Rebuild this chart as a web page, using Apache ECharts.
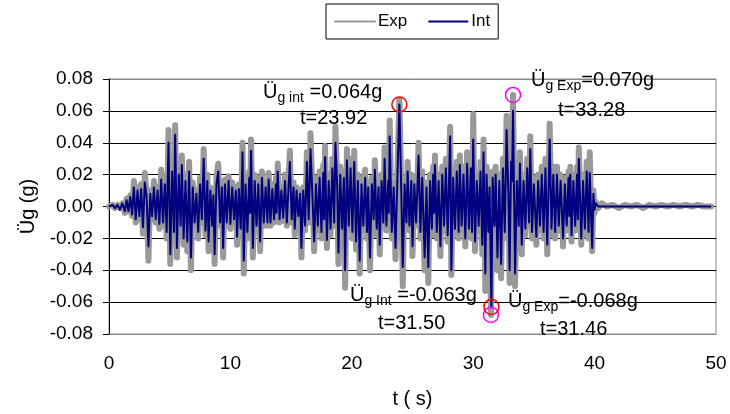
<!DOCTYPE html>
<html>
<head>
<meta charset="utf-8">
<script src="https://cdn.jsdelivr.net/npm/echarts@6/dist/echarts.min.js"></script>
<style>
html,body{margin:0;padding:0;background:#fff;}
#chart{width:730px;height:414px;}
</style>
</head>
<body>
<div id="chart"></div>
<script>
// Tick labels / axis ranges
const xTicks = [0, 10, 20, 30, 40, 50];
const yTicks = [-0.08, -0.06, -0.04, -0.02, 0.00, 0.02, 0.04, 0.06, 0.08];
const seriesNames = ['Exp', 'Int'];

const expRecord = [
[0.0,0.000],[0.3,0.001],[0.5,-0.001],[0.7,0.001],[0.9,-0.001],[1.1,0.002],[1.3,-0.004],[1.45,0.005],[1.6,-0.003],[1.75,0.007],
[1.9,-0.006],[2.05,0.016],[2.2,-0.010],[2.35,0.012],[2.5,-0.008],[2.65,0.014],[2.8,-0.017],[2.95,0.021],[3.1,0.008],[3.25,-0.034],
[3.4,0.010],[3.55,-0.008],[3.7,0.016],[3.85,-0.010],[4.0,0.012],[4.15,-0.014],[4.3,0.023],[4.45,-0.012],[4.6,0.018],[4.75,-0.020],
[4.9,0.048],[5.05,-0.036],[5.2,0.030],[5.35,-0.020],[5.45,0.051],[5.6,-0.032],[5.75,0.025],[5.9,-0.015],[6.0,0.032],[6.15,-0.024],
[6.3,0.020],[6.45,-0.028],[6.6,0.028],[6.75,-0.040],[6.9,0.015],[7.05,-0.012],[7.2,0.010],[7.35,-0.020],[7.5,0.018],[7.65,-0.010],
[7.8,0.036],[7.95,-0.018],[8.1,0.020],[8.2,-0.028],[8.35,0.012],[8.5,-0.015],[8.6,0.008],[8.7,-0.036],[8.85,0.018],[9.0,0.027],
[9.15,-0.012],[9.3,0.015],[9.4,-0.032],[9.55,0.017],[9.7,-0.012],[9.85,0.019],[10.0,-0.014],[10.15,0.015],[10.3,-0.010],[10.45,0.012],
[10.55,-0.024],[10.7,0.014],[10.85,-0.018],[11.0,0.040],[11.1,-0.042],[11.25,0.018],[11.4,-0.020],[11.55,0.022],[11.62,-0.005],[11.7,0.042],
[11.85,-0.032],[12.0,0.020],[12.15,-0.015],[12.3,0.018],[12.45,-0.028],[12.6,0.022],[12.75,-0.012],[12.9,0.015],[13.05,-0.012],[13.15,0.021],
[13.3,-0.012],[13.45,0.014],[13.6,-0.010],[13.75,0.018],[13.8,-0.005],[13.9,0.027],[14.05,-0.010],[14.2,0.012],[14.35,-0.009],[14.5,0.020],
[14.65,-0.012],[14.8,0.018],[14.9,0.035],[15.05,-0.010],[15.2,0.015],[15.3,-0.018],[15.45,0.012],[15.6,-0.008],[15.75,0.010],[15.85,-0.032],
[16.0,0.012],[16.15,-0.015],[16.3,0.034],[16.45,-0.010],[16.6,0.046],[16.75,0.010],[16.9,-0.028],[17.05,0.018],[17.2,-0.015],[17.35,0.022],
[17.5,-0.020],[17.65,0.026],[17.72,-0.010],[17.8,0.038],[17.95,-0.026],[18.1,0.020],[18.25,-0.018],[18.4,0.030],[18.55,-0.012],[18.65,0.050],
[18.8,0.015],[18.9,-0.036],[19.05,0.025],[19.2,-0.018],[19.35,0.022],[19.45,-0.051],[19.6,0.036],[19.75,-0.015],[19.9,0.030],[20.05,-0.020],
[20.2,0.035],[20.35,-0.027],[20.5,0.020],[20.65,-0.042],[20.8,0.018],[20.95,-0.015],[21.1,0.023],[21.25,-0.020],[21.35,0.015],[21.5,-0.040],
[21.65,0.018],[21.8,-0.010],[21.9,0.029],[22.05,-0.018],[22.2,0.015],[22.3,-0.030],[22.45,0.020],[22.6,-0.012],[22.7,0.037],[22.85,-0.015],
[23.0,0.020],[23.05,-0.005],[23.12,0.054],[23.3,-0.020],[23.45,0.015],[23.6,-0.033],[23.75,0.020],[23.92,0.067],[24.08,0.010],[24.2,-0.050],
[24.35,0.018],[24.5,-0.012],[24.6,0.028],[24.75,-0.015],[24.9,0.020],[25.0,-0.031],[25.15,0.018],[25.3,-0.012],[25.5,0.040],[25.65,-0.020],
[25.8,0.022],[26.0,-0.040],[26.15,0.015],[26.3,-0.048],[26.45,0.020],[26.6,-0.018],[26.7,0.025],[26.78,-0.005],[26.85,0.032],[27.0,-0.020],
[27.15,0.020],[27.3,-0.031],[27.45,0.025],[27.6,-0.015],[27.75,0.030],[27.9,-0.022],[28.1,0.050],[28.2,-0.043],[28.35,0.022],[28.5,-0.018],
[28.65,0.028],[28.8,-0.020],[28.9,0.032],[29.05,-0.015],[29.2,0.025],[29.35,-0.025],[29.5,0.034],[29.65,-0.018],[29.8,0.030],[29.9,-0.020],
[30.0,0.058],[30.15,-0.028],[30.3,0.020],[30.45,-0.015],[30.6,0.028],[30.75,-0.030],[30.85,0.042],[31.0,-0.053],[31.1,0.025],[31.25,-0.020],
[31.35,0.015],[31.46,-0.068],[31.6,0.022],[31.75,-0.015],[31.85,0.025],[32.0,-0.040],[32.15,0.020],[32.3,-0.045],[32.45,0.030],[32.6,-0.020],
[32.75,0.057],[32.9,0.010],[33.0,-0.048],[33.12,0.035],[33.2,0.020],[33.28,0.070],[33.45,-0.050],[33.6,0.020],[33.75,-0.015],[33.85,0.034],
[34.0,-0.030],[34.15,0.020],[34.3,-0.018],[34.45,0.030],[34.6,-0.012],[34.7,0.044],[34.85,-0.020],[35.0,0.018],[35.2,-0.024],[35.35,0.020],
[35.5,-0.015],[35.65,0.025],[35.8,-0.020],[35.95,0.030],[36.1,-0.030],[36.3,0.052],[36.45,-0.018],[36.6,0.025],[36.75,-0.020],[36.9,0.025],
[37.05,-0.015],[37.2,0.020],[37.4,-0.025],[37.55,0.018],[37.7,-0.015],[37.85,0.022],[37.92,-0.008],[38.0,0.025],[38.1,-0.022],[38.25,0.020],
[38.4,-0.015],[38.55,0.025],[38.62,-0.010],[38.7,0.037],[38.9,-0.024],[39.05,0.020],[39.2,-0.018],[39.35,0.028],[39.5,-0.020],[39.6,0.034],
[39.8,-0.028],[39.9,0.010],[40.0,-0.004],[40.1,0.003],[40.3,-0.001],[40.6,0.002],[41.0,0.000],[41.5,0.001],[42.0,-0.001],[42.5,0.001],
[43.0,0.000],[43.5,0.001],[44.0,-0.001],[44.5,0.001],[45.0,0.000],[45.5,0.001],[46.0,0.000],[46.5,0.001],[47.0,0.000],[47.5,0.001],
[48.0,0.000],[48.5,0.001],[49.0,0.000],[49.6,0.000]
];

// Integrated (Int) ground acceleration record [t (s), Üg (g)]
const intRecord = [
[0.0,0.000],[0.3,0.001],[0.5,-0.001],[0.7,0.001],[0.9,-0.002],[1.1,0.002],[1.3,-0.003],[1.45,0.004],[1.6,-0.003],[1.75,0.006],
[1.9,-0.005],[2.05,0.012],[2.2,-0.008],[2.35,0.010],[2.5,-0.006],[2.65,0.011],[2.8,-0.013],[2.95,0.015],[3.1,0.006],[3.25,-0.025],
[3.4,0.008],[3.55,-0.006],[3.7,0.012],[3.85,-0.008],[4.0,0.010],[4.15,-0.011],[4.3,0.017],[4.45,-0.010],[4.6,0.014],[4.75,-0.016],
[4.9,0.040],[5.05,-0.030],[5.2,0.022],[5.35,-0.016],[5.45,0.045],[5.6,-0.026],[5.75,0.020],[5.9,-0.012],[6.0,0.026],[6.15,-0.020],
[6.3,0.016],[6.45,-0.022],[6.6,0.022],[6.75,-0.032],[6.9,0.012],[7.05,-0.010],[7.2,0.008],[7.35,-0.016],[7.5,0.014],[7.65,-0.008],
[7.8,0.030],[7.95,-0.015],[8.1,0.016],[8.2,-0.022],[8.35,0.010],[8.5,-0.012],[8.6,0.007],[8.7,-0.030],[8.85,0.014],[9.0,0.022],
[9.15,-0.010],[9.3,0.012],[9.4,-0.026],[9.55,0.014],[9.7,-0.010],[9.85,0.016],[10.0,-0.011],[10.15,0.012],[10.3,-0.008],[10.45,0.010],
[10.55,-0.019],[10.7,0.011],[10.85,-0.014],[11.0,0.034],[11.1,-0.034],[11.25,0.014],[11.4,-0.016],[11.55,0.018],[11.62,-0.004],[11.7,0.035],
[11.85,-0.026],[12.0,0.016],[12.15,-0.012],[12.3,0.014],[12.45,-0.022],[12.6,0.018],[12.75,-0.010],[12.9,0.012],[13.05,-0.010],[13.15,0.017],
[13.3,-0.010],[13.45,0.011],[13.6,-0.008],[13.75,0.014],[13.8,-0.004],[13.9,0.022],[14.05,-0.008],[14.2,0.010],[14.35,-0.007],[14.5,0.016],
[14.65,-0.010],[14.8,0.014],[14.9,0.028],[15.05,-0.008],[15.2,0.012],[15.3,-0.014],[15.45,0.010],[15.6,-0.006],[15.75,0.008],[15.85,-0.026],
[16.0,0.010],[16.15,-0.012],[16.3,0.028],[16.45,-0.008],[16.6,0.036],[16.75,0.008],[16.9,-0.022],[17.05,0.014],[17.2,-0.012],[17.35,0.018],
[17.5,-0.016],[17.65,0.021],[17.72,-0.008],[17.8,0.031],[17.95,-0.021],[18.1,0.016],[18.25,-0.014],[18.4,0.024],[18.55,-0.010],[18.65,0.040],
[18.8,0.012],[18.9,-0.029],[19.05,0.020],[19.2,-0.014],[19.35,0.018],[19.45,-0.040],[19.6,0.029],[19.75,-0.012],[19.9,0.024],[20.05,-0.016],
[20.2,0.028],[20.35,-0.022],[20.5,0.016],[20.65,-0.034],[20.8,0.014],[20.95,-0.012],[21.1,0.018],[21.25,-0.016],[21.35,0.012],[21.5,-0.032],
[21.65,0.014],[21.8,-0.008],[21.9,0.023],[22.05,-0.014],[22.2,0.012],[22.3,-0.024],[22.45,0.016],[22.6,-0.010],[22.7,0.030],[22.85,-0.012],
[23.0,0.016],[23.05,-0.004],[23.12,0.044],[23.3,-0.016],[23.45,0.012],[23.6,-0.026],[23.75,0.016],[23.92,0.064],[24.08,0.008],[24.2,-0.038],
[24.35,0.014],[24.5,-0.010],[24.6,0.022],[24.75,-0.012],[24.9,0.016],[25.0,-0.025],[25.15,0.014],[25.3,-0.010],[25.5,0.032],[25.65,-0.016],
[25.8,0.018],[26.0,-0.032],[26.15,0.012],[26.3,-0.038],[26.45,0.016],[26.6,-0.014],[26.7,0.020],[26.78,-0.004],[26.85,0.026],[27.0,-0.016],
[27.15,0.016],[27.3,-0.025],[27.45,0.020],[27.6,-0.012],[27.75,0.024],[27.9,-0.018],[28.1,0.044],[28.2,-0.040],[28.35,0.018],[28.5,-0.014],
[28.65,0.022],[28.8,-0.016],[28.9,0.026],[29.05,-0.012],[29.2,0.020],[29.35,-0.020],[29.5,0.027],[29.65,-0.014],[29.8,0.024],[29.9,-0.016],
[30.0,0.042],[30.15,-0.022],[30.3,0.016],[30.45,-0.012],[30.6,0.022],[30.75,-0.024],[30.85,0.034],[31.0,-0.042],[31.1,0.020],[31.25,-0.016],
[31.35,0.012],[31.50,-0.063],[31.6,0.018],[31.75,-0.012],[31.85,0.020],[32.0,-0.032],[32.15,0.016],[32.3,-0.036],[32.45,0.024],[32.6,-0.016],
[32.75,0.048],[32.9,0.008],[33.0,-0.040],[33.12,0.028],[33.2,0.016],[33.28,0.060],[33.45,-0.042],[33.6,0.016],[33.75,-0.012],[33.85,0.027],
[34.0,-0.024],[34.15,0.016],[34.3,-0.014],[34.45,0.024],[34.6,-0.010],[34.7,0.036],[34.85,-0.016],[35.0,0.014],[35.2,-0.019],[35.35,0.016],
[35.5,-0.012],[35.65,0.020],[35.8,-0.016],[35.95,0.024],[36.1,-0.024],[36.3,0.042],[36.45,-0.014],[36.6,0.020],[36.75,-0.016],[36.9,0.020],
[37.05,-0.012],[37.2,0.016],[37.4,-0.020],[37.55,0.014],[37.7,-0.012],[37.85,0.018],[37.92,-0.006],[38.0,0.020],[38.1,-0.018],[38.25,0.016],
[38.4,-0.012],[38.55,0.020],[38.62,-0.008],[38.7,0.030],[38.9,-0.020],[39.05,0.016],[39.2,-0.014],[39.35,0.022],[39.5,-0.016],[39.6,0.021],
[39.8,-0.026],[39.9,0.008],[40.0,-0.002],[40.1,0.002],[40.3,0.000],[41.0,0.000],[42.0,0.000],[43.0,0.000],[44.0,0.000],[45.0,0.000],
[46.0,0.000],[47.0,0.000],[48.0,0.000],[49.0,0.000],[49.6,0.000]
];

// Annotated peaks [t, value]
const intPeaks = [[23.92, 0.064], [31.50, -0.063]];
const expPeaks = [[33.28, 0.070], [31.46, -0.068]];

const FONT = '"Liberation Sans", Arial, sans-serif';
const chart = echarts.init(document.getElementById('chart'), null, {renderer: 'canvas'});

const sub = {
  m: {fontSize: 20, fontFamily: FONT, color: '#000', lineHeight: 24},
  s: {fontSize: 14, fontFamily: FONT, color: '#000', lineHeight: 14, padding: [11, 0, 0, 0]}
};
function annot(x, y, text) {
  return {type: 'text', left: x, top: y, z: 100,
    style: {text: text, rich: sub, font: '20px ' + FONT, fill: '#000'}};
}
function plain(x, y, text) {
  return {type: 'text', left: x, top: y, z: 100,
    style: {text: text, fontSize: 20, fontFamily: FONT, fill: '#000'}};
}

const splitColors = yTicks.map((v, i) => i === yTicks.length - 1 ? '#888' : '#000');

chart.setOption({
  animation: false,
  backgroundColor: '#fff',
  grid: {left: 109, right: 14, top: 79, bottom: 78, show: true, borderColor: '#888', borderWidth: 1},
  legend: {
    left: 326, top: 4, padding: [9, 8, 9, 8], itemGap: 20, itemWidth: 40, itemHeight: 12,
    borderColor: '#000', borderWidth: 1, borderRadius: 0,
    itemStyle: {opacity: 0},
    textStyle: {fontSize: 17, fontFamily: FONT, color: '#000', padding: [0, 0, 0, -2]},
    data: seriesNames
  },
  xAxis: {
    type: 'value', min: xTicks[0], max: xTicks[xTicks.length - 1], interval: 10,
    name: 't ( s)', nameLocation: 'middle', nameGap: 55,
    nameTextStyle: {fontSize: 20, fontFamily: FONT, color: '#000'},
    axisLine: {show: true, onZero: false, lineStyle: {color: '#888', width: 1}},
    axisTick: {show: false},
    axisLabel: {fontSize: 19, fontFamily: FONT, color: '#000', margin: 20},
    splitLine: {show: false}
  },
  yAxis: {
    type: 'value', min: yTicks[0], max: yTicks[yTicks.length - 1], interval: 0.02,
    name: 'Üg (g)', nameLocation: 'middle', nameGap: 70, nameRotate: 90,
    nameTextStyle: {fontSize: 20, fontFamily: FONT, color: '#000'},
    axisLine: {show: true, onZero: false, lineStyle: {color: '#000', width: 1}},
    axisTick: {show: true, inside: false, length: 6, lineStyle: {color: '#000'}},
    axisLabel: {fontSize: 19, fontFamily: FONT, color: '#000', margin: 16,
      formatter: v => v.toFixed(2)},
    splitLine: {show: true, lineStyle: {color: splitColors, width: 1}}
  },
  series: [
    {
      name: seriesNames[0], type: 'line', data: expRecord, showSymbol: false, symbol: 'none',
      color: '#999999',
      lineStyle: {color: '#999999', width: 6, cap: 'round', join: 'round'},
      z: 2,
      markPoint: {
        symbol: 'circle', symbolSize: 15, silent: true,
        itemStyle: {color: 'rgba(0,0,0,0)', borderColor: '#ff00ff', borderWidth: 1.5},
        label: {show: false},
        data: expPeaks.map(p => ({coord: p}))
      }
    },
    {
      name: seriesNames[1], type: 'line', data: intRecord, showSymbol: false, symbol: 'none',
      color: '#000080',
      lineStyle: {color: '#000080', width: 2, join: 'round'},
      z: 3,
      markPoint: {
        symbol: 'circle', symbolSize: 15, silent: true,
        itemStyle: {color: 'rgba(0,0,0,0)', borderColor: '#ff0000', borderWidth: 1.5},
        label: {show: false},
        data: intPeaks.map(p => ({coord: p}))
      }
    }
  ],
  graphic: [
    annot(263, 80, '{m|Ü}{s|g int}{m| =' + intPeaks[0][1].toFixed(3) + 'g}'),
    plain(300, 108, 't=' + intPeaks[0][0].toFixed(2)),
    annot(531, 68, '{m|Ü}{s|g Exp}{m|=' + expPeaks[0][1].toFixed(3) + 'g}'),
    plain(558, 100, 't=' + expPeaks[0][0].toFixed(2)),
    annot(350, 283, '{m|Ü}{s|g Int}{m| =' + intPeaks[1][1].toFixed(3) + 'g}'),
    plain(378, 313, 't=' + intPeaks[1][0].toFixed(2)),
    annot(508, 289, '{m|Ü}{s|g Exp}{m|=' + expPeaks[1][1].toFixed(3) + 'g}'),
    plain(540, 319, 't=' + expPeaks[1][0].toFixed(2))
  ]
});
</script>
</body>
</html>
